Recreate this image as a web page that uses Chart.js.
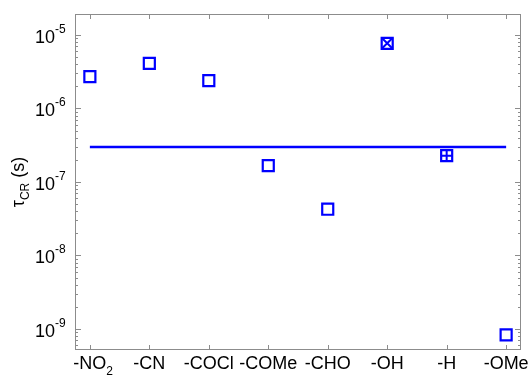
<!DOCTYPE html>
<html>
<head>
<meta charset="utf-8">
<script src="https://cdn.jsdelivr.net/npm/chart.js@4"></script>
<style>
  body { margin: 0; background: #fff; }
  canvas { display: block; }
</style>
</head>
<body>
<canvas id="chart" width="531" height="376"></canvas>
<script>
// substituent groups along x (main text + subscript)
const categories = ['-NO', '-CN', '-COCl', '-COMe', '-CHO', '-OH', '-H', '-OMe'];
const categorySubs = ['2', '', '', '', '', '', '', ''];
// tau_CR values (s)
const tauValues = [2.71e-6, 4.12e-6, 2.39e-6, 1.67e-7, 4.26e-8, 7.71e-6, 2.28e-7, 8.3e-10];
// extra markers drawn inside some squares
const crossRotIndex = [5];
const crossIndex = [6];
// horizontal reference level
const refLevel = 3e-7;
const yDecades = [-9, -8, -7, -6, -5];

const blue = '#0000ff';
const frameColor = '#8c8c8c';
const font = "'Liberation Sans', Arial, sans-serif";

const pts = tauValues.map((v, i) => ({ x: i + 1, y: v }));

const axesPlugin = {
    id: 'axesPlugin',
    afterDatasetsDraw(chart) {
        const ctx = chart.ctx;
        const a = chart.chartArea;
        const xs = chart.scales.x, ys = chart.scales.y;
        ctx.save();
        ctx.strokeStyle = frameColor;
        ctx.lineWidth = 1;
        ctx.strokeRect(a.left + 0.5, a.top + 0.5, a.right - a.left - 1, a.bottom - a.top - 1);

        ctx.beginPath();
        // x ticks (inward, bottom and top)
        categories.forEach((c, i) => {
            const px = Math.round(xs.getPixelForValue(i + 1)) + 0.5;
            ctx.moveTo(px, a.bottom); ctx.lineTo(px, a.bottom - 5);
            ctx.moveTo(px, a.top); ctx.lineTo(px, a.top + 5);
        });
        // y ticks, log minor + major
        for (let d = -10; d <= -5; d++) {
            for (let m = 1; m <= 9; m++) {
                const v = m * Math.pow(10, d);
                if (v < ys.min || v > ys.max) continue;
                const py = Math.round(ys.getPixelForValue(v)) + 0.5;
                const len = m === 1 ? 6 : 3;
                ctx.moveTo(a.left, py); ctx.lineTo(a.left + len, py);
                ctx.moveTo(a.right, py); ctx.lineTo(a.right - len, py);
            }
        }
        ctx.stroke();

        ctx.fillStyle = '#000';
        // y tick labels 10^n
        yDecades.forEach(d => {
            const py = ys.getPixelForValue(Math.pow(10, d));
            ctx.font = '18px ' + font;
            ctx.textAlign = 'right';
            ctx.textBaseline = 'alphabetic';
            ctx.fillText('10', 55, py + 8);
            ctx.font = '12px ' + font;
            ctx.textAlign = 'left';
            ctx.fillText(String(d), 55, py - 2);
        });

        // x tick labels
        categories.forEach((c, i) => {
            const px = xs.getPixelForValue(i + 1);
            ctx.font = '18px ' + font;
            ctx.textAlign = 'center';
            ctx.fillText(c, px, 369);
            if (categorySubs[i]) {
                const w = ctx.measureText(c).width;
                ctx.font = '12px ' + font;
                ctx.textAlign = 'left';
                ctx.fillText(categorySubs[i], px + w / 2, 375);
            }
        });

        // y axis title
        ctx.translate(24, 182);
        ctx.rotate(-Math.PI / 2);
        ctx.font = '18px ' + font;
        const t1 = '\u03c4', t2 = 'CR', t3 = ' (s)';
        const w1 = ctx.measureText(t1).width, w3 = ctx.measureText(t3).width;
        ctx.font = '12px ' + font;
        const w2 = ctx.measureText(t2).width;
        let x0 = -(w1 + w2 + w3) / 2;
        ctx.textAlign = 'left';
        ctx.font = '18px ' + font;
        ctx.fillText(t1, x0, 0);
        ctx.font = '12px ' + font;
        ctx.fillText(t2, x0 + w1, 5);
        ctx.font = '18px ' + font;
        ctx.fillText(t3, x0 + w1 + w2, 0);
        ctx.restore();
    }
};

new Chart(document.getElementById('chart'), {
    type: 'scatter',
    data: {
        datasets: [
            {
                type: 'line',
                data: [{ x: 1, y: refLevel }, { x: categories.length, y: refLevel }],
                borderColor: blue,
                borderWidth: 2.5,
                pointRadius: 0,
                fill: false
            },
            {
                data: pts,
                pointStyle: 'rect',
                pointRadius: 7.8,
                pointBorderWidth: 2.2,
                pointBorderColor: blue,
                pointBackgroundColor: 'rgba(0,0,0,0)'
            },
            {
                data: crossRotIndex.map(i => pts[i]),
                pointStyle: 'crossRot',
                pointRadius: 7.8,
                pointBorderWidth: 2,
                pointBorderColor: blue
            },
            {
                data: crossIndex.map(i => pts[i]),
                pointStyle: 'cross',
                pointRadius: 5.5,
                pointBorderWidth: 2,
                pointBorderColor: blue
            }
        ]
    },
    options: {
        responsive: false,
        animation: false,
        layout: { padding: { left: 75, top: 14, right: 6, bottom: 26 } },
        plugins: {
            legend: { display: false },
            tooltip: { enabled: false }
        },
        scales: {
            x: {
                type: 'linear',
                display: false,
                min: 0.75,
                max: categories.length + 0.25
            },
            y: {
                type: 'logarithmic',
                display: false,
                min: 5.18e-10,
                max: 1.93e-5
            }
        }
    },
    plugins: [axesPlugin]
});
</script>
</body>
</html>
